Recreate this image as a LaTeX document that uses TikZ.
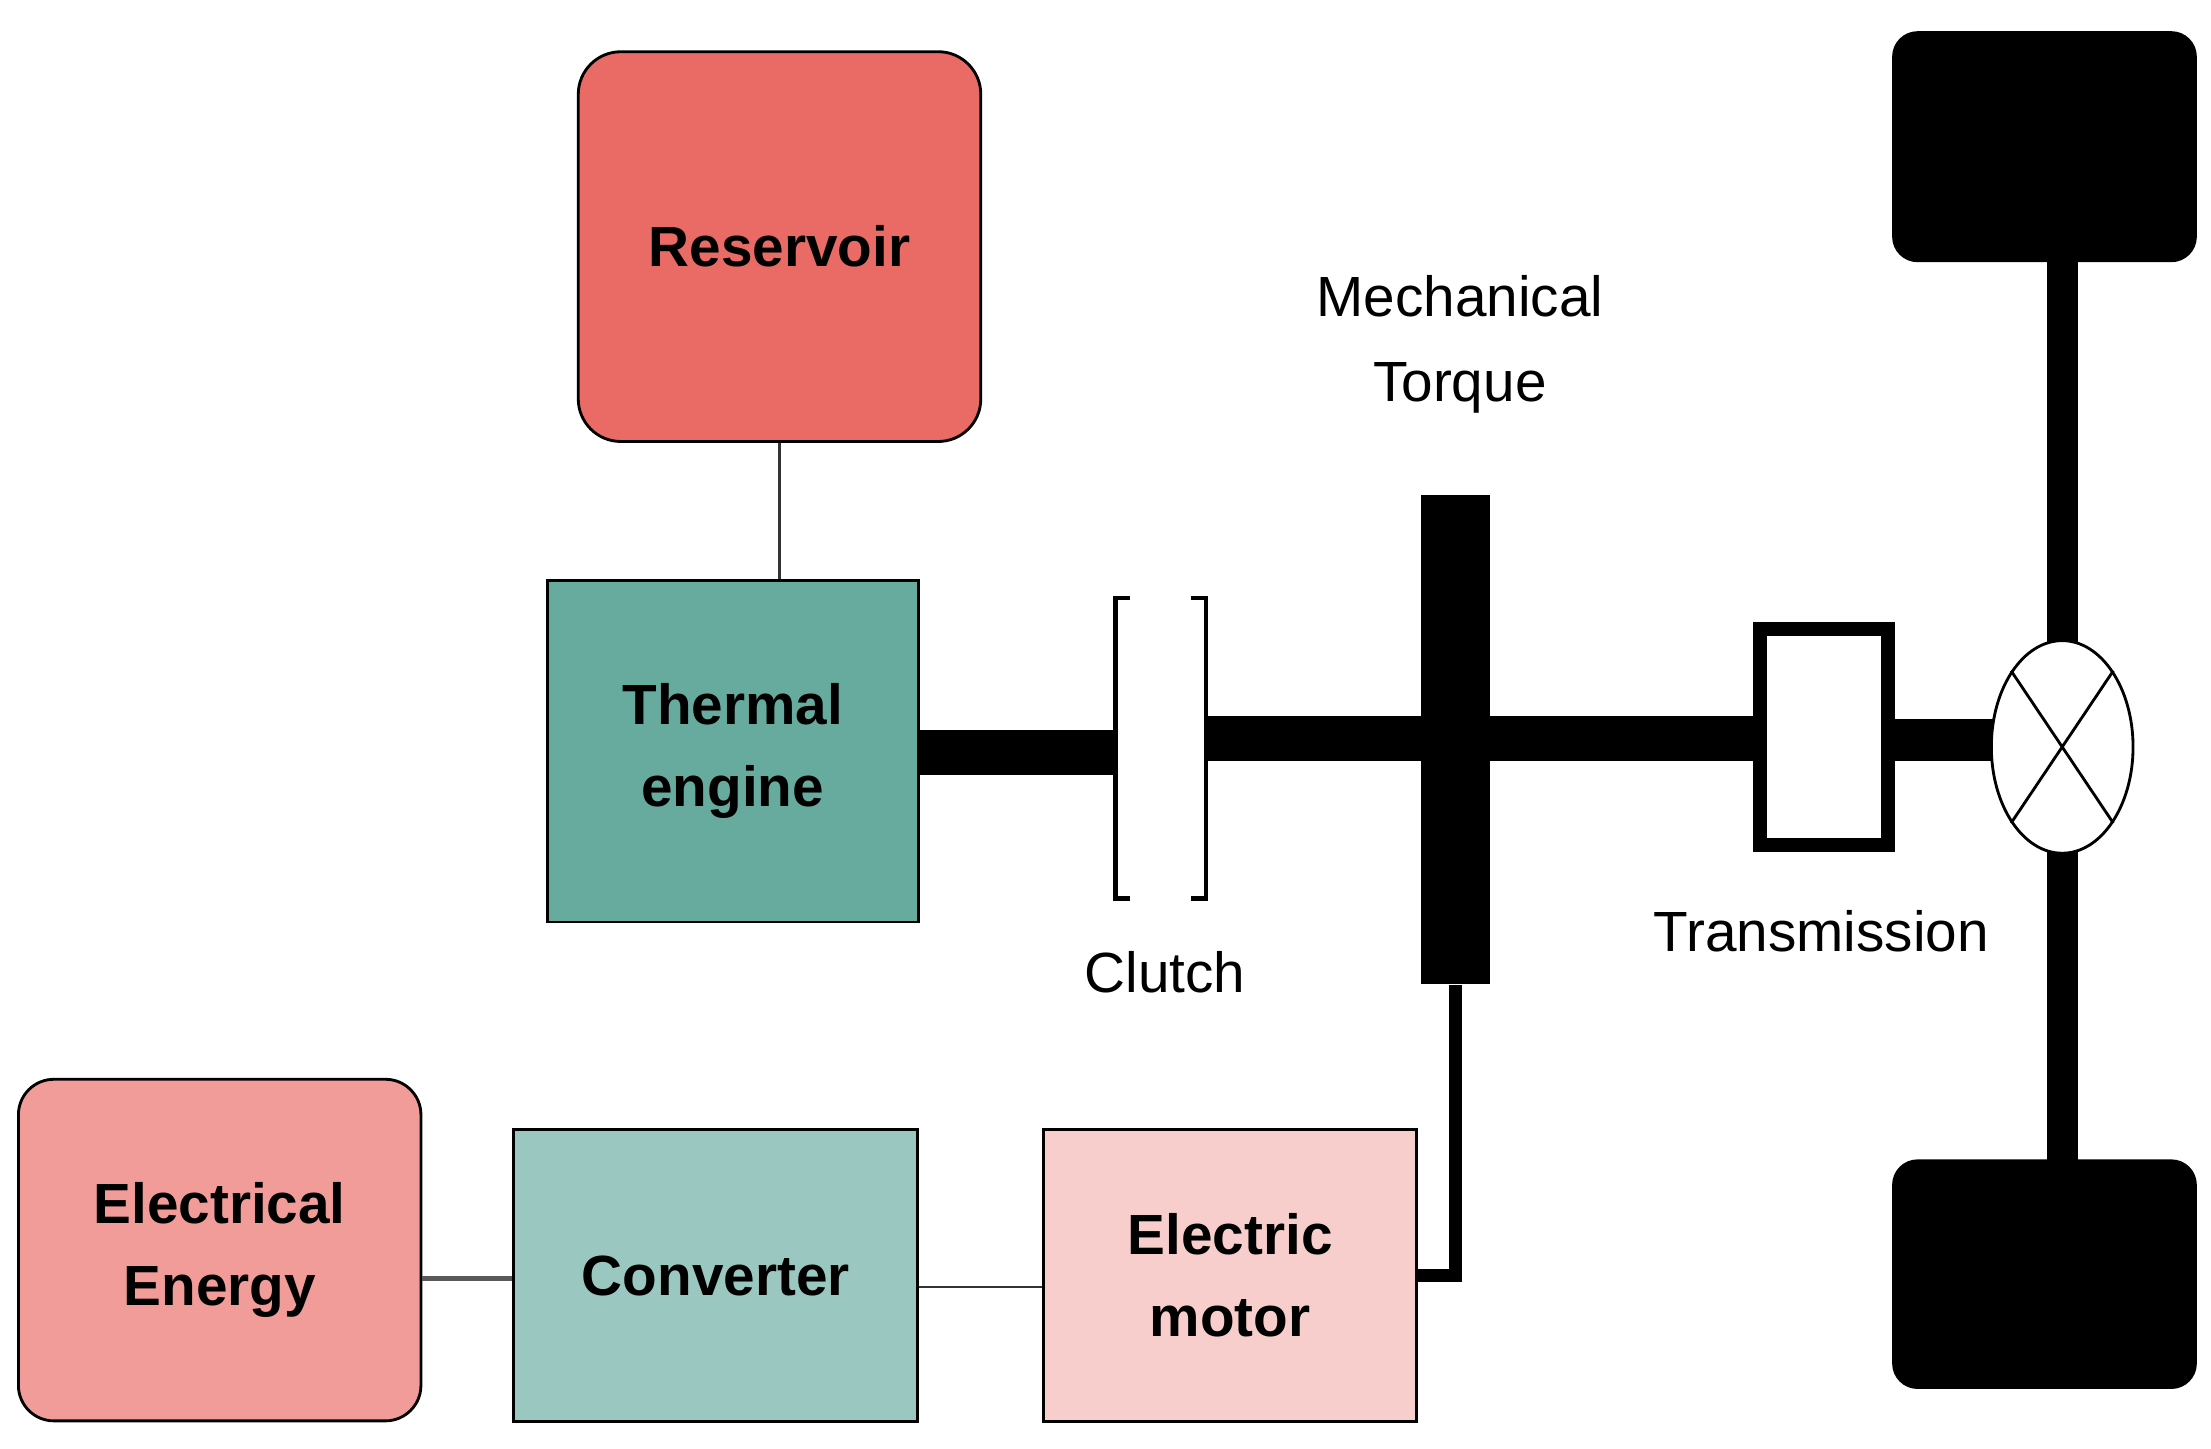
\documentclass[tikz,border=0pt]{standalone}
\usepackage{fontspec}
\usetikzlibrary{shapes.geometric}
\setmainfont{Liberation Sans}
\definecolor{res}{HTML}{EA6B66}
\definecolor{the}{HTML}{67AB9F}
\definecolor{ele}{HTML}{F19C99}
\definecolor{con}{HTML}{9AC7BF}
\definecolor{mot}{HTML}{F8CECC}
\begin{document}
\begin{tikzpicture}[x=1pt,y=-1pt,
  box/.style={draw=black,line width=2pt,inner sep=0pt,font=\fontsize{40}{50}\selectfont\bfseries,align=center},
  lbl/.style={font=\fontsize{40}{50}\selectfont,align=center,inner sep=0pt},
  blk/.style={fill=black,draw=none}]
\useasboundingbox (0,0) rectangle (1560,1022);
\fill[white] (0,0) rectangle (1560,1022);
% wheels and axle
\fill (1444,180) rectangle (1466,820);
\fill[rounded corners=18pt] (1335,22) rectangle (1550,185);
\fill[rounded corners=18pt] (1335,818) rectangle (1550,980);
% shafts
\fill (648,515) rectangle (787,547);
\fill (852,505) rectangle (1238,537);
\fill (1337,507) rectangle (1410,537);
% nodes
\node[box,fill=res,rounded corners=30pt,minimum width=284pt,minimum height=275pt] (res) at (550,174) {Reservoir};
\node[box,fill=the,minimum width=262pt,minimum height=241pt] (the) at (517,530) {Thermal\\[8pt]engine};
\node[box,fill=ele,rounded corners=25pt,minimum width=284pt,minimum height=241pt] (ee) at (155,882) {Electrical\\[8pt]Energy};
\node[box,fill=con,minimum width=285pt,minimum height=206pt] (conv) at (505,900) {Converter};
\node[box,fill=mot,minimum width=263pt,minimum height=206pt] (mot) at (868,900) {Electric\\[8pt]motor};
\node[blk,minimum width=49pt,minimum height=345pt,inner sep=0pt] (bar) at (1027,522) {};
\node[draw=black,line width=10pt,fill=white,minimum width=90pt,minimum height=152pt,inner sep=0pt] (tr) at (1287,520) {};
\node[ellipse,draw=black,line width=2pt,fill=white,minimum width=100pt,minimum height=150pt,inner sep=0pt] (diff) at (1455,527) {};
\draw[line width=2pt] (diff.north west) -- (diff.south east) (diff.north east) -- (diff.south west);
% clutch
\draw[line width=3pt] (797,422) -- (787,422) -- (787,634) -- (797,634);
\draw[line width=3pt] (840,422) -- (851,422) -- (851,634) -- (840,634);
% connectors
\draw[line width=1.5pt,black!80] (res.south) -- (res.south |- the.north);
\draw[line width=4pt,black!65] (ee.east |- 0,902) -- (conv.west |- 0,902);
\draw[line width=2pt,black!80] (conv.east |- 0,908) -- (mot.west |- 0,908);
\draw[line width=9pt] (mot.east |- 0,900) -| (bar.south);
% labels
\node[lbl] (mt) at (1030,243) {Mechanical\\[10pt]Torque};
\node[lbl] (cl) at (822,686) {Clutch};
\node[lbl] (tl) at (1285,657) {Transmission};
\end{tikzpicture}
\end{document}
